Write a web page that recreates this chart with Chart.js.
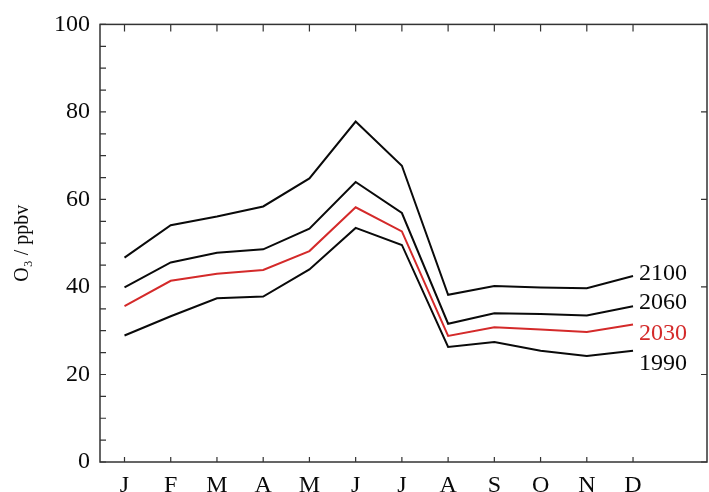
<!DOCTYPE html>
<html>
<head>
<meta charset="utf-8">
<script src="https://cdn.jsdelivr.net/npm/chart.js@4/dist/chart.umd.min.js"></script>
<style>
  html, body { margin: 0; padding: 0; background: #fff; overflow: hidden; }
  #wrap { width: 709px; height: 492px; }
</style>
</head>
<body>
<div id="wrap"><canvas id="o3Chart" width="709" height="492"></canvas></div>
<script>
// Monthly O3 at the surface
const months = ['J', 'F', 'M', 'A', 'M', 'J', 'J', 'A', 'S', 'O', 'N', 'D'];
const years = ['2100', '2060', '2030', '1990'];
const o3_2100 = [46.7, 54.1, 56.1, 58.4, 64.8, 77.8, 67.7, 38.2, 40.2, 39.9, 39.7, 42.5];
const o3_2060 = [39.9, 45.6, 47.8, 48.6, 53.3, 64.0, 56.9, 31.6, 34.0, 33.8, 33.5, 35.6];
const o3_2030 = [35.6, 41.4, 43.0, 43.9, 48.2, 58.2, 52.7, 28.8, 30.8, 30.3, 29.7, 31.4];
const o3_1990 = [28.9, 33.3, 37.4, 37.8, 44.0, 53.5, 49.6, 26.3, 27.4, 25.4, 24.2, 25.4];
const yTicks = [0, 20, 40, 60, 80, 100];
// where each year label sits on the y scale (end labels are spread out a bit)
const labelAt = [43.0, 36.3, 29.3, 22.4];

const serif = '"Liberation Serif", "DejaVu Serif", serif';
const ink = '#0a0a0a';
const red = '#d42a2a';

const series = [o3_2100, o3_2060, o3_2030, o3_1990];
const colors = [ink, ink, red, ink];

// frame with inward ticks, plus year labels at the line ends
const framePlugin = {
  id: 'frame',
  afterDatasetsDraw(chart) {
    const { ctx, chartArea: a, scales } = chart;
    const x = scales.x, y = scales.y;
    ctx.save();
    ctx.strokeStyle = '#333';
    ctx.lineWidth = 1.5;
    ctx.strokeRect(a.left, a.top, a.right - a.left, a.bottom - a.top);
    ctx.lineWidth = 1.2;
    ctx.beginPath();
    months.forEach((m, i) => {
      const px = x.getPixelForValue(i);
      ctx.moveTo(px, a.bottom); ctx.lineTo(px, a.bottom - 5);
      ctx.moveTo(px, a.top); ctx.lineTo(px, a.top + 7);
    });
    for (let v = 0; v <= 100; v += 5) {
      const py = y.getPixelForValue(v);
      ctx.moveTo(a.left, py); ctx.lineTo(a.left + 6, py);
      if (v % 20 === 0) { ctx.moveTo(a.right, py); ctx.lineTo(a.right - 6, py); }
    }
    ctx.stroke();

    ctx.font = '24px ' + serif;
    ctx.textBaseline = 'middle';
    ctx.textAlign = 'left';
    const lx = x.getPixelForValue(months.length - 1) + 6;
    years.forEach((yr, i) => {
      ctx.fillStyle = colors[i];
      ctx.fillText(yr, lx, y.getPixelForValue(labelAt[i]));
    });
    ctx.restore();
  }
};

const ctx = document.getElementById('o3Chart').getContext('2d');
new Chart(ctx, {
  type: 'line',
  data: {
    datasets: series.map((vals, i) => ({
      label: years[i],
      data: vals.map((v, k) => ({ x: k, y: v })),
      borderColor: colors[i],
      borderWidth: 2,
      pointRadius: 0,
      tension: 0,
      fill: false,
    })),
  },
  options: {
    responsive: false,
    animation: false,
    devicePixelRatio: 1,
    layout: { padding: { top: 18, right: 2, left: 0, bottom: 0 } },
    plugins: { legend: { display: false }, tooltip: { enabled: false } },
    scales: {
      x: {
        type: 'linear',
        min: -0.53,
        max: 12.6,
        afterBuildTicks: (s) => { s.ticks = months.map((m, i) => ({ value: i })); },
        afterFit: (s) => { s.height = 30; },
        grid: { display: false, drawTicks: false },
        border: { display: false },
        ticks: {
          autoSkip: false,
          maxRotation: 0,
          padding: 9,
          color: ink,
          font: { family: serif, size: 24 },
          callback: (v) => months[v] || '',
        },
      },
      y: {
        min: 0,
        max: 100,
        afterBuildTicks: (s) => { s.ticks = yTicks.map((v) => ({ value: v })); },
        afterFit: (s) => { s.width = 100; },
        grid: { display: false, drawTicks: false },
        border: { display: false },
        ticks: {
          padding: 10,
          color: ink,
          font: { family: serif, size: 24 },
        },
        title: {
          display: true,
          text: 'O\u2083 / ppbv',
          color: ink,
          font: { family: serif, size: 20 },
          padding: { top: 11, bottom: 0 },
        },
      },
    },
  },
  plugins: [framePlugin],
});
</script>
</body>
</html>
